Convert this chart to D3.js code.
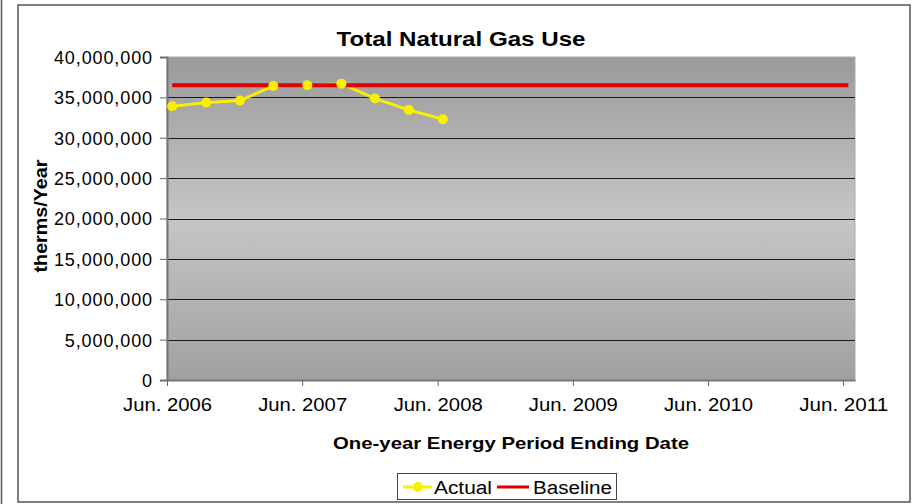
<!DOCTYPE html>
<html>
<head>
<meta charset="utf-8">
<script src="https://cdn.jsdelivr.net/npm/d3@7"></script>
<style>
  body { margin: 0; background: #fff; }
  svg text { font-family: Arial, "Liberation Sans", sans-serif; fill: #000; }
</style>
</head>
<body>
<svg></svg>
<script>
var width = 916, height = 504;

// data
var actualDates = ["2006-06-15", "2006-09-15", "2006-12-15", "2007-03-15", "2007-06-15",
                   "2007-09-15", "2007-12-15", "2008-03-15", "2008-06-15"];
var actualValues = [33900000, 34350000, 34600000, 36400000, 36500000,
                    36700000, 34850000, 33450000, 32300000];
var baselineDates = ["2006-06-15", "2011-06-15"];
var baselineValues = [36500000, 36500000];
var xTickDates = ["2006-06-01", "2007-06-01", "2008-06-01", "2009-06-01", "2010-06-01", "2011-06-01"];
var xTickLabels = ["Jun. 2006", "Jun. 2007", "Jun. 2008", "Jun. 2009", "Jun. 2010", "Jun. 2011"];
var yTicks = [0, 5000000, 10000000, 15000000, 20000000, 25000000, 30000000, 35000000, 40000000];

var parse = d3.timeParse("%Y-%m-%d");
var actual = actualDates.map(function(d, i){ return {date: parse(d), value: actualValues[i]}; });
var baseline = baselineDates.map(function(d, i){ return {date: parse(d), value: baselineValues[i]}; });

var plot = {left: 167, right: 855, top: 57, bottom: 380};

var svg = d3.select("svg")
  .attr("width", width)
  .attr("height", height);

// outer frames
svg.append("line")
  .attr("x1", 1.5).attr("x2", 1.5).attr("y1", 0).attr("y2", height)
  .attr("stroke", "#555").attr("stroke-width", 1.5);
svg.append("rect")
  .attr("x", 18).attr("y", 5).attr("width", 892).attr("height", 497)
  .attr("fill", "#fff").attr("stroke", "#555").attr("stroke-width", 1.5);

var x = d3.scaleTime()
  .domain([parse("2006-06-01"), parse("2011-07-03")])
  .range([plot.left, plot.right]);

var y = d3.scaleLinear()
  .domain([0, 40000000])
  .range([plot.bottom, plot.top]);

// plot background gradient
var grad = svg.append("defs").append("linearGradient")
  .attr("id", "bg").attr("x1", 0).attr("x2", 0).attr("y1", 0).attr("y2", 1);
grad.append("stop").attr("offset", "0%").attr("stop-color", "#9a9a9a");
grad.append("stop").attr("offset", "50%").attr("stop-color", "#c6c6c6");
grad.append("stop").attr("offset", "100%").attr("stop-color", "#a0a0a0");

svg.append("rect")
  .attr("x", plot.left).attr("y", plot.top)
  .attr("width", plot.right - plot.left).attr("height", plot.bottom - plot.top)
  .attr("fill", "url(#bg)")
  .attr("stroke", "#aaa");

// gridlines
svg.append("g")
  .selectAll("line")
  .data(yTicks.filter(function(d){ return d > 0 && d < 40000000; }))
  .enter()
  .append("line")
  .attr("x1", plot.left).attr("x2", plot.right)
  .attr("y1", function(d){ return Math.round(y(d)) + 0.5; })
  .attr("y2", function(d){ return Math.round(y(d)) + 0.5; })
  .attr("stroke", "#1a1a1a");

// y axis
var yAxis = svg.append("g")
  .attr("transform", "translate(" + plot.left + ",0)")
  .call(d3.axisLeft(y).tickValues(yTicks).tickFormat(d3.format(",")).tickSize(7).tickPadding(7));
yAxis.select(".domain").attr("stroke", "#777").attr("stroke-width", 2);
yAxis.selectAll(".tick line").attr("stroke", "#666");
yAxis.selectAll(".tick text")
  .style("font-size", "18px").style("letter-spacing", "0.9px")
  .attr("dy", "0.36em");

// x axis
var xAxis = svg.append("g")
  .attr("transform", "translate(0," + plot.bottom + ")")
  .call(d3.axisBottom(x).tickValues(xTickDates.map(parse))
    .tickFormat(function(d, i){ return xTickLabels[i]; })
    .tickSize(6).tickPadding(12).tickSizeOuter(0));
xAxis.select(".domain").attr("stroke", "#777").attr("stroke-width", 2);
xAxis.selectAll(".tick line").attr("stroke", "#666");
xAxis.selectAll(".tick text")
  .attr("textLength", 89).attr("lengthAdjust", "spacingAndGlyphs")
  .style("font-size", "18px");

// actual line
var line = d3.line()
  .x(function(d){ return x(d.date); })
  .y(function(d){ return y(d.value); });

svg.append("path")
  .datum(actual)
  .attr("d", line)
  .attr("fill", "none")
  .attr("stroke", "#f8f000")
  .attr("stroke-width", 3);

// baseline
svg.append("path")
  .datum(baseline)
  .attr("d", line)
  .attr("fill", "none")
  .attr("stroke", "#e00000")
  .attr("stroke-width", 4);

// markers
svg.append("g")
  .selectAll("circle")
  .data(actual)
  .enter()
  .append("circle")
  .attr("cx", function(d){ return x(d.date); })
  .attr("cy", function(d){ return y(d.value); })
  .attr("r", 5)
  .attr("fill", "#f8f000");

// title and axis labels
svg.append("text")
  .attr("x", 461).attr("y", 46)
  .attr("text-anchor", "middle")
  .attr("textLength", 249).attr("lengthAdjust", "spacingAndGlyphs")
  .style("font-size", "20px").style("font-weight", "bold")
  .text("Total Natural Gas Use");

svg.append("text")
  .attr("transform", "translate(47,216) rotate(-90)")
  .attr("text-anchor", "middle")
  .attr("textLength", 113).attr("lengthAdjust", "spacingAndGlyphs")
  .style("font-size", "18px").style("font-weight", "bold")
  .text("therms/Year");

svg.append("text")
  .attr("x", 511).attr("y", 449)
  .attr("text-anchor", "middle")
  .attr("textLength", 356).attr("lengthAdjust", "spacingAndGlyphs")
  .style("font-size", "17px").style("font-weight", "bold")
  .text("One-year Energy Period Ending Date");

// legend
var legend = svg.append("g");
legend.append("rect")
  .attr("x", 397.5).attr("y", 473.5).attr("width", 219).attr("height", 26)
  .attr("fill", "#fff").attr("stroke", "#444");
legend.append("line")
  .attr("x1", 403).attr("x2", 432).attr("y1", 487).attr("y2", 487)
  .attr("stroke", "#f8f000").attr("stroke-width", 3);
legend.append("circle")
  .attr("cx", 418).attr("cy", 487).attr("r", 5).attr("fill", "#f8f000");
legend.append("text")
  .attr("x", 434).attr("y", 494)
  .attr("textLength", 58).attr("lengthAdjust", "spacingAndGlyphs")
  .style("font-size", "18px")
  .text("Actual");
legend.append("line")
  .attr("x1", 497).attr("x2", 529).attr("y1", 487).attr("y2", 487)
  .attr("stroke", "#e00000").attr("stroke-width", 3);
legend.append("text")
  .attr("x", 533).attr("y", 494)
  .attr("textLength", 79).attr("lengthAdjust", "spacingAndGlyphs")
  .style("font-size", "18px")
  .text("Baseline");
</script>
</body>
</html>
